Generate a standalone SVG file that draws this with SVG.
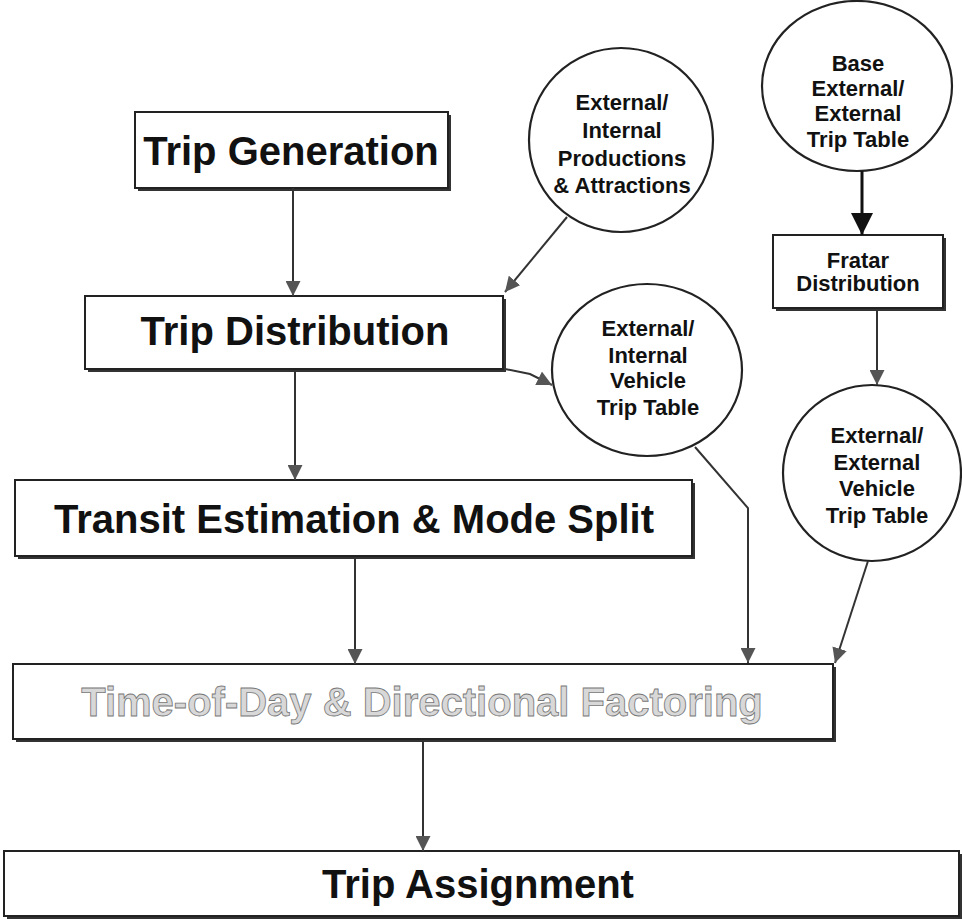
<svg xmlns="http://www.w3.org/2000/svg" width="962" height="923" viewBox="0 0 962 923">
<defs>
<marker id="ah" viewBox="0 0 12 12" refX="12" refY="6" markerWidth="15" markerHeight="15" markerUnits="userSpaceOnUse" orient="auto">
<path d="M0,0 L12,6 L0,12 z" fill="#555"/>
</marker>
<marker id="ahBig" viewBox="0 0 12 12" refX="12" refY="6" markerWidth="22" markerHeight="22" markerUnits="userSpaceOnUse" orient="auto">
<path d="M0,0 L12,6 L0,12 z" fill="#111"/>
</marker>
</defs>
<style>
.box{fill:#fff;stroke:#222;stroke-width:2}
.shadow{fill:#333}
.ell{fill:#fff;stroke:#222;stroke-width:2.2}
.big{font-family:"Liberation Sans",Arial,sans-serif;font-weight:bold;font-size:40px;fill:#111;text-anchor:middle}
.faded{font-family:"Liberation Sans",Arial,sans-serif;font-weight:bold;font-size:40px;fill:#d8d8d8;stroke:#777;stroke-width:0.8;text-anchor:middle}
.sm{font-family:"Liberation Sans",Arial,sans-serif;font-weight:bold;font-size:22px;fill:#111;text-anchor:middle}
.conn{fill:none;stroke:#333;stroke-width:2;marker-end:url(#ah)}
</style>
<rect width="962" height="923" fill="#fff"/>

<g id="trip-generation">
<rect class="shadow" x="138" y="115" width="313" height="76"/>
<rect class="box" x="135" y="112" width="313" height="76"/>
<text class="big" x="291" y="165">Trip Generation</text>
</g>

<g id="trip-distribution">
<rect class="shadow" x="88" y="299" width="418" height="73"/>
<rect class="box" x="85" y="296" width="418" height="73"/>
<text class="big" x="295" y="345">Trip Distribution</text>
</g>

<g id="transit-estimation">
<rect class="shadow" x="18" y="483" width="677" height="76"/>
<rect class="box" x="15" y="480" width="677" height="76"/>
<text class="big" x="354" y="533">Transit Estimation &amp; Mode Split</text>
</g>

<g id="time-of-day">
<rect class="shadow" x="16" y="667" width="820" height="75"/>
<rect class="box" x="13" y="664" width="820" height="75"/>
<text class="faded" x="422" y="716">Time-of-Day &amp; Directional Factoring</text>
</g>

<g id="trip-assignment">
<rect class="shadow" x="7" y="854" width="955" height="65"/>
<rect class="box" x="4" y="851" width="955" height="65"/>
<text class="big" x="478" y="898" font-size="39">Trip Assignment</text>
</g>

<g id="fratar-distribution">
<rect class="shadow" x="776" y="238" width="170" height="73"/>
<rect class="box" x="773" y="235" width="170" height="73"/>
<text class="sm" x="858" y="268">Fratar</text>
<text class="sm" x="858" y="291">Distribution</text>
</g>

<g id="ext-int-productions">
<ellipse class="ell" cx="621" cy="140" rx="92" ry="92"/>
<text class="sm" x="622" y="110" font-size="23">External/</text>
<text class="sm" x="622" y="138" font-size="23">Internal</text>
<text class="sm" x="622" y="166" font-size="23">Productions</text>
<text class="sm" x="622" y="193" font-size="23">&amp; Attractions</text>
</g>

<g id="base-ext-ext">
<ellipse class="ell" cx="857" cy="86" rx="95" ry="85"/>
<text class="sm" x="858" y="71">Base</text>
<text class="sm" x="858" y="96">External/</text>
<text class="sm" x="858" y="121">External</text>
<text class="sm" x="858" y="147">Trip Table</text>
</g>

<g id="ext-int-vehicle">
<ellipse class="ell" cx="647" cy="370" rx="95" ry="86"/>
<text class="sm" x="648" y="336" font-size="23">External/</text>
<text class="sm" x="648" y="363" font-size="23">Internal</text>
<text class="sm" x="648" y="388" font-size="23">Vehicle</text>
<text class="sm" x="648" y="415" font-size="23">Trip Table</text>
</g>

<g id="ext-ext-vehicle">
<ellipse class="ell" cx="872" cy="473" rx="89" ry="88"/>
<text class="sm" x="877" y="443">External/</text>
<text class="sm" x="877" y="470">External</text>
<text class="sm" x="877" y="496">Vehicle</text>
<text class="sm" x="877" y="523">Trip Table</text>
</g>

<g id="connectors">
<path class="conn" d="M293,188 L293,296"/>
<path class="conn" d="M567,217 L505,292"/>
<path class="conn" d="M295,372 L295,480"/>
<path class="conn" d="M505,369 L530,374 L552,385"/>
<path class="conn" d="M355,559 L355,664"/>
<path class="conn" d="M695,447 L748,508 L748,663"/>
<path d="M862,171 L862,235" fill="none" stroke="#111" stroke-width="3" marker-end="url(#ahBig)"/>
<path class="conn" d="M877,311 L877,385"/>
<path class="conn" d="M868,561 L835,663"/>
<path class="conn" d="M423,742 L423,851"/>
</g>
</svg>
